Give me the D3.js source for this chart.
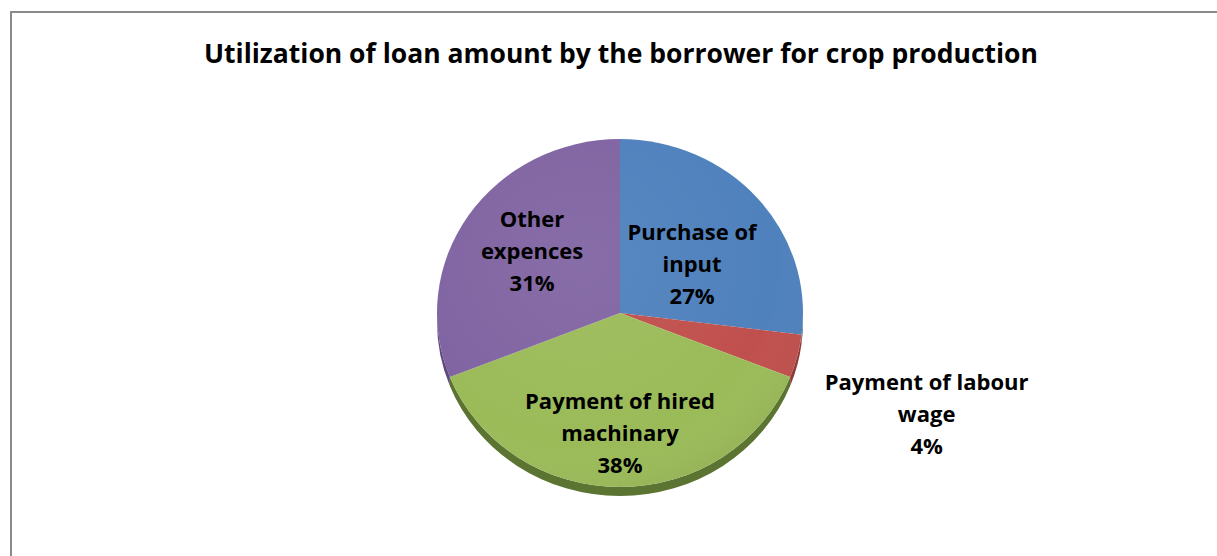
<!DOCTYPE html>
<html>
<head>
<meta charset="utf-8">
<script src="https://cdn.jsdelivr.net/npm/d3@7"></script>
<style>
  html, body { margin: 0; padding: 0; background: #fff; }
  svg { display: block; }
</style>
</head>
<body>
<svg id="chart" width="1217" height="556"></svg>
<script>
// ---- data ----
const title = "Utilization of loan amount by the borrower for crop production";
const categories = ["Purchase of input", "Payment of labour wage", "Payment of hired machinary", "Other expences"];
const values = [27, 4, 38, 31];
const labelLines = [
  ["Purchase of", "input"],
  ["Payment of labour", "wage"],
  ["Payment of hired", "machinary"],
  ["Other", "expences"]
];

// ---- style ----
const colors = ["#4f81bd", "#c0504d", "#9bbb59", "#8064a2"];
const sideColors = ["#3b6290", "#8e3a38", "#5b7431", "#5e4a7a"];
const labelFactors = [[0.525, 0.354], [1.73, 2.52], [0, 0.735], [0.581, 0.554]];
const FONT = "'Open Sans', Lato, sans-serif";

const W = 1217, H = 556;
const cx = 620, cy = 313, rx = 183, ry = 174, depth = 9;
const k = ry / rx;

const svg = d3.select("#chart");
const defs = svg.append("defs");

svg.append("rect")
  .attr("x", 11).attr("y", 12)
  .attr("width", W).attr("height", H)
  .attr("fill", "none").attr("stroke", "#8a8a8a").attr("stroke-width", 2);

svg.append("text")
  .attr("x", 621).attr("y", 63)
  .attr("text-anchor", "middle")
  .attr("font-family", FONT)
  .attr("font-weight", "bold")
  .attr("font-size", 26.5)
  .attr("fill", "#000")
  .text(title);

const pie = d3.pie().sort(null).value(d => d);
const arcs = pie(values);

const g = svg.append("g").attr("transform", `translate(${cx},${cy}) scale(1,${k})`);
const dz = depth / k;
arcs.forEach((a, i) => {
  const s = Math.max(a.startAngle, Math.PI / 2);
  const e = Math.min(a.endAngle, 3 * Math.PI / 2);
  if (e <= s) return;
  const p = d3.path();
  const s0 = s - Math.PI / 2, e0 = e - Math.PI / 2;
  p.moveTo(rx * Math.cos(s0), rx * Math.sin(s0));
  p.arc(0, 0, rx, s0, e0, false);
  p.lineTo(rx * Math.cos(e0), rx * Math.sin(e0) + dz);
  p.arc(0, dz, rx, e0, s0, true);
  p.closePath();
  g.append("path").attr("d", p.toString()).attr("fill", sideColors[i]);
});

const arcGen = d3.arc().innerRadius(0).outerRadius(rx);
g.selectAll("path.slice")
  .data(arcs)
  .enter().append("path")
  .attr("class", "slice")
  .attr("d", arcGen)
  .attr("fill", (d, i) => colors[i]);

const grad = defs.append("radialGradient").attr("id", "light")
  .attr("cx", "40%").attr("cy", "35%").attr("r", "75%");
grad.append("stop").attr("offset", "0%").attr("stop-color", "#fff").attr("stop-opacity", 0.06);
grad.append("stop").attr("offset", "70%").attr("stop-color", "#fff").attr("stop-opacity", 0);
grad.append("stop").attr("offset", "100%").attr("stop-color", "#000").attr("stop-opacity", 0.08);
g.append("circle").attr("r", rx).attr("fill", "url(#light)");

const lineH = 32;
arcs.forEach((a, i) => {
  const mid = (a.startAngle + a.endAngle) / 2;
  const [fx, fy] = labelFactors[i];
  const x = cx + rx * fx * Math.sin(mid);
  const y = cy - ry * fy * Math.cos(mid);
  const lines = labelLines[i].concat([Math.round(values[i]) + "%"]);
  const t = svg.append("text")
    .attr("text-anchor", "middle")
    .attr("font-family", FONT)
    .attr("font-weight", "bold")
    .attr("font-size", 22)
    .attr("fill", "#000");
  lines.forEach((ln, j) => {
    t.append("tspan").attr("x", x).attr("y", y + (j - 1) * lineH).text(ln);
  });
});
</script>
</body>
</html>
